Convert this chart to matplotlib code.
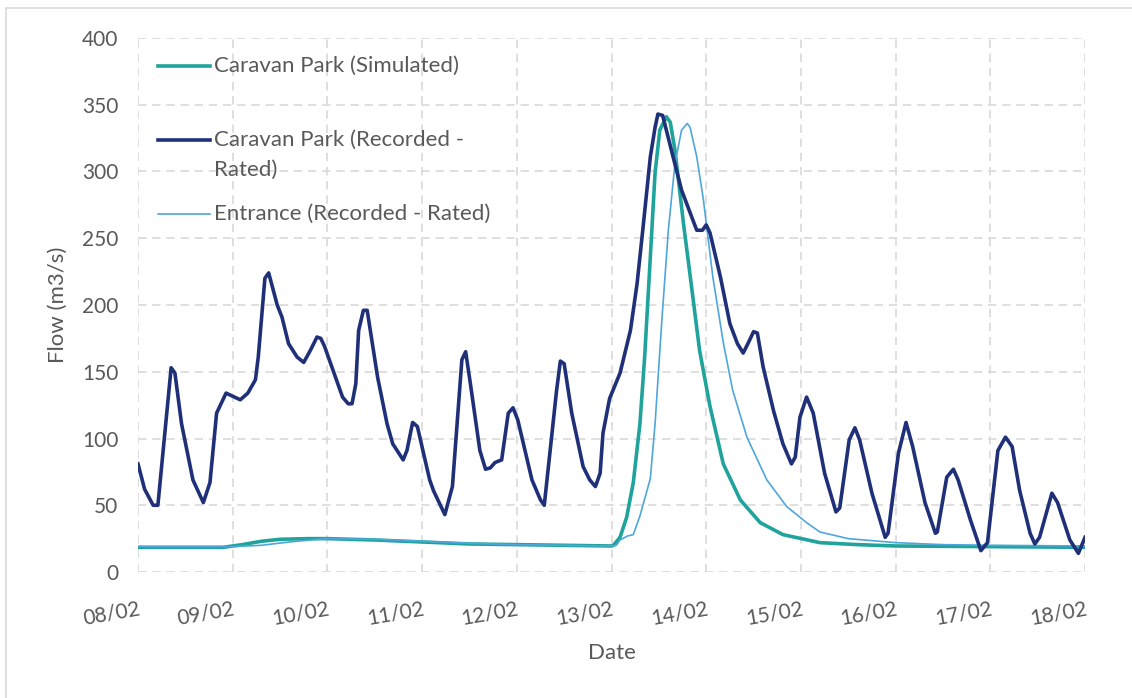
import numpy as np
import matplotlib.pyplot as plt
from matplotlib.patches import Rectangle

# x values are days after 08/02 00:00
DATE_LABELS = ['08/02', '09/02', '10/02', '11/02', '12/02', '13/02',
               '14/02', '15/02', '16/02', '17/02', '18/02']

# Caravan Park (Recorded - Rated)
rec_t = [0.00, 0.07, 0.16, 0.21, 0.35, 0.39, 0.46, 0.58, 0.69, 0.76, 0.83, 0.93,
         1.08, 1.16, 1.24, 1.27, 1.34, 1.38, 1.47, 1.52, 1.59, 1.68, 1.75, 1.82,
         1.89, 1.93, 1.97, 2.03, 2.16, 2.22, 2.26, 2.30, 2.33, 2.38, 2.42, 2.53,
         2.63, 2.69, 2.80, 2.84, 2.90, 2.95, 3.08, 3.12, 3.24, 3.32, 3.42, 3.46,
         3.51, 3.61, 3.67, 3.72, 3.77, 3.84, 3.91, 3.96, 4.01, 4.16, 4.25, 4.29,
         4.42, 4.46, 4.50, 4.58, 4.70, 4.77, 4.83, 4.88, 4.91, 4.98, 5.09, 5.20,
         5.27, 5.33, 5.41, 5.46, 5.49, 5.54, 5.65, 5.74, 5.83, 5.90, 5.96, 6.00,
         6.04, 6.15, 6.25, 6.33, 6.39, 6.44, 6.50, 6.54, 6.60, 6.71, 6.81, 6.90,
         6.94, 6.99, 7.06, 7.13, 7.25, 7.37, 7.41, 7.51, 7.57, 7.62, 7.75, 7.89,
         7.92, 8.03, 8.11, 8.18, 8.31, 8.42, 8.44, 8.54, 8.61, 8.66, 8.79, 8.90,
         8.97, 9.08, 9.16, 9.23, 9.31, 9.42, 9.47, 9.52, 9.65, 9.71, 9.84, 9.93,
         10.00]
rec_q = [81, 62, 50, 50, 153, 149, 111, 69, 52, 67, 119, 134,
         129, 134, 144, 161, 220, 224, 200, 191, 171, 161, 157, 166,
         176, 175, 169, 157, 131, 126, 126, 141, 181, 196, 196, 146,
         111, 96, 84, 91, 112, 109, 69, 61, 43, 64, 159, 165,
         141, 91, 77, 78, 82, 84, 119, 123, 114, 69, 54, 50,
         136, 158, 156, 119, 79, 69, 64, 74, 104, 130, 149, 181,
         216, 256, 311, 333, 343, 342, 311, 286, 269, 256, 256, 260,
         254, 221, 186, 171, 164, 171, 180, 179, 154, 121, 96, 81,
         86, 116, 131, 119, 74, 45, 48, 99, 108, 99, 59, 26,
         29, 89, 112, 94, 52, 29, 30, 71, 77, 69, 39, 16,
         22, 91, 101, 94, 61, 29, 21, 26, 59, 52, 24, 14,
         26]

# Caravan Park (Simulated)
sim_t = [0.0, 0.9, 1.1, 1.3, 1.5, 1.8, 2.0, 2.5, 3.0, 3.5, 4.0, 4.5, 5.0, 5.02,
         5.09, 5.16, 5.23, 5.30, 5.35, 5.41, 5.46, 5.51, 5.58, 5.62, 5.67, 5.76,
         5.85, 5.93, 6.04, 6.18, 6.36, 6.57, 6.81, 7.20, 7.6, 8.0, 9.0, 10.0]
sim_q = [18.5, 18.5, 20.5, 23, 24.5, 25, 25, 24, 22.5, 21, 20.5, 20, 19.5, 20,
         26, 41, 67, 111, 161, 236, 299, 331, 341, 337, 316, 261,
         211, 166, 124, 81, 54, 37, 28, 22, 20.5, 19.5, 19, 18.5]

# Entrance (Recorded - Rated)
ent_t = [0.0, 1.0, 1.3, 1.6, 1.9, 2.0, 2.5, 3.0, 3.5, 4.0, 4.5, 5.0, 5.05,
         5.09, 5.17, 5.23, 5.30, 5.41, 5.46, 5.53, 5.60, 5.67, 5.74, 5.80, 5.83,
         5.90, 5.97, 6.07, 6.18, 6.28, 6.43, 6.64, 6.85, 7.06, 7.20, 7.5, 8.0,
         8.5, 9.0, 10.0]
ent_q = [19, 19, 20, 22.5, 24.5, 25, 24.5, 23, 21.5, 20.5, 20, 19.5, 20,
         24, 27, 28, 42, 70, 111, 187, 256, 306, 331, 336, 333,
         311, 279, 221, 172, 136, 101, 69, 49, 37, 30, 25, 22,
         20.5, 20, 19.5]

TEXT = '#595959'
SIM_COLOR = '#1fa39b'
REC_COLOR = '#1f3079'
ENT_COLOR = '#4ea6dc'
plt.rcParams['font.family'] = ['Lato', 'DejaVu Sans']

fig = plt.figure(figsize=(11.32, 6.98), dpi=100)
ax = fig.add_axes([0.1219, 0.1805, 0.8366, 0.7651])

ax.plot(sim_t, sim_q, color=SIM_COLOR, lw=2.6, zorder=3)
ax.plot(ent_t, ent_q, color=ENT_COLOR, lw=1.2, zorder=4)
ax.plot(rec_t, rec_q, color=REC_COLOR, lw=2.6, zorder=5)

ax.set_xlim(0, 10)
ax.set_ylim(0, 400)
ax.set_xticks(range(len(DATE_LABELS)))
ax.set_xticklabels(DATE_LABELS, rotation=10, ha='right', va='top',
                   rotation_mode='anchor')
ax.set_yticks(range(0, 401, 50))

ax.grid(True, color='#d9d9d9', lw=1.2, ls=(0, (5, 3.5)))
for s in ax.spines.values():
    s.set_visible(False)
ax.tick_params(length=0, labelsize=15, labelcolor=TEXT)
ax.tick_params(axis='y', pad=14)
ax.tick_params(axis='x', pad=19)

ax.set_xlabel('Date', fontsize=16, color=TEXT, labelpad=11)
ax.set_ylabel('Flow (m3/s)', fontsize=16, color=TEXT, labelpad=10)

# Excel-style legend: handle aligned with the first line of each label
legend_items = [('Caravan Park (Simulated)', SIM_COLOR, 2.6, 0.9476),
                ('Caravan Park (Recorded -\nRated)', REC_COLOR, 2.6, 0.809),
                ('Entrance (Recorded - Rated)', ENT_COLOR, 1.2, 0.6704)]
line_step = 0.0562
for label, color, lw, y in legend_items:
    ax.plot([0.0211, 0.0760], [y, y], color=color, lw=lw,
            transform=ax.transAxes, clip_on=False, zorder=6)
    for i, part in enumerate(label.split('\n')):
        ax.text(0.0803, y - i * line_step, part, transform=ax.transAxes,
                fontsize=16, color=TEXT, va='center', ha='left')

# light chart-area border
fig.patches.append(Rectangle((6 / 1132, -0.05), 1.2, 1.05 - 8 / 698,
                             transform=fig.transFigure, fill=False,
                             edgecolor='#d9d9d9', lw=1.2))

fig.savefig('out.png', dpi=100)
